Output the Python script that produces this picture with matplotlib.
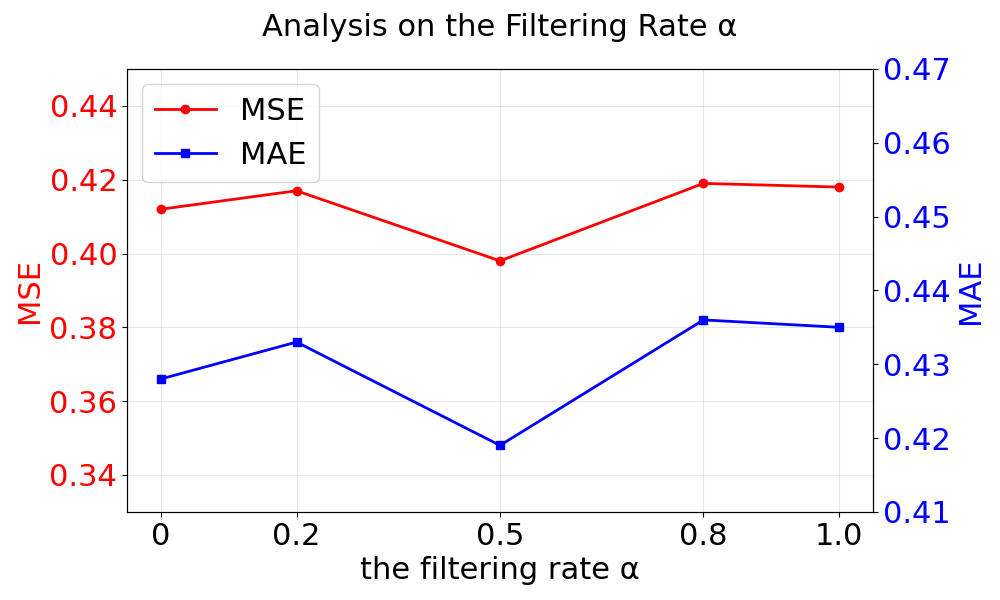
import matplotlib
matplotlib.use('Agg')
import matplotlib.pyplot as plt

# filtering rate values
alpha = [0, 0.2, 0.5, 0.8, 1.0]
alpha_labels = ['0', '0.2', '0.5', '0.8', '1.0']
mse = [0.412, 0.417, 0.398, 0.419, 0.418]
mae = [0.428, 0.433, 0.419, 0.436, 0.435]

fig, ax1 = plt.subplots(figsize=(10, 6), dpi=100)
fig.subplots_adjust(left=0.127, right=0.873, top=0.885, bottom=0.147)

l1, = ax1.plot(alpha, mse, color='red', marker='o', linewidth=2, markersize=6, label='MSE')
ax1.set_ylim(0.33, 0.45)
ax1.set_yticks([0.34, 0.36, 0.38, 0.40, 0.42, 0.44])
ax1.set_ylabel('MSE', color='red', fontsize=22)
ax1.tick_params(axis='y', labelcolor='red', labelsize=22)
ax1.tick_params(axis='x', labelsize=22)
ax1.set_xticks(alpha)
ax1.set_xticklabels(alpha_labels)
ax1.set_xlim(-0.05, 1.05)
ax1.set_xlabel('the filtering rate α', fontsize=22)
ax1.grid(True, alpha=0.3)

ax2 = ax1.twinx()
l2, = ax2.plot(alpha, mae, color='blue', marker='s', linewidth=2, markersize=6, label='MAE')
ax2.set_ylim(0.41, 0.47)
ax2.set_yticks([0.41, 0.42, 0.43, 0.44, 0.45, 0.46, 0.47])
ax2.set_ylabel('MAE', color='blue', fontsize=22)
ax2.tick_params(axis='y', labelcolor='blue', labelsize=22)

ax1.legend([l1, l2], ['MSE', 'MAE'], loc='upper left', fontsize=22)

fig.text(0.5, 1 - 28 / 600, 'Analysis on the Filtering Rate α', fontsize=22,
         ha='center', va='center')
plt.savefig('out.png')
